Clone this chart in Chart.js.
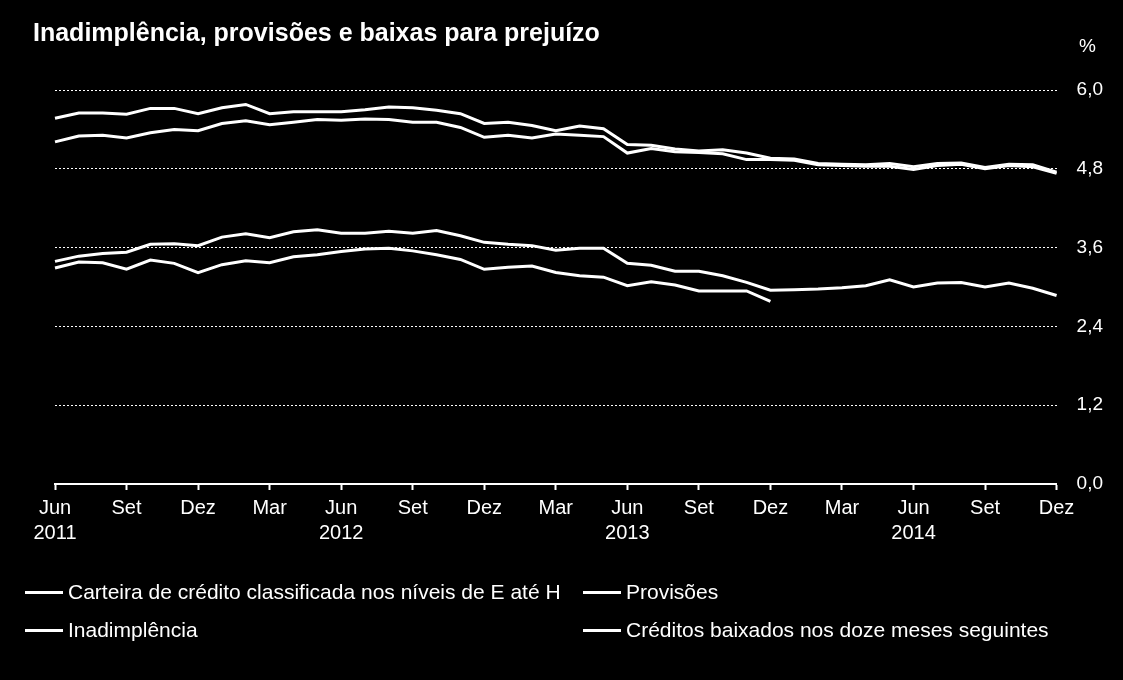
<!DOCTYPE html>
<html lang="pt-BR">
<head>
<meta charset="utf-8">
<title>Inadimplência, provisões e baixas para prejuízo</title>
<script src="https://cdn.jsdelivr.net/npm/chart.js@4.4.1/dist/chart.umd.min.js"></script>
<style>
  html, body { margin: 0; padding: 0; background: #000; }
  .wrap { position: relative; width: 1123px; height: 680px; background: #000; overflow: hidden;
    font-family: "Liberation Sans", Arial, sans-serif; color: #fff; }
  #chart { position: absolute; left: 0; top: 0; }
  .title { position: absolute; left: 33px; top: 18px; font-size: 25px; font-weight: bold; white-space: nowrap; }
  .unit { position: absolute; left: 1079px; top: 35px; font-size: 19px; }
  .leg { position: absolute; font-size: 21px; white-space: nowrap; display: flex; align-items: center; }
  .leg i { display: inline-block; width: 38px; height: 3px; background: #fff; margin-right: 5px; }
</style>
</head>
<body>
<div class="wrap">
  <canvas id="chart" width="1123" height="680"></canvas>
  <div class="title">Inadimplência, provisões e baixas para prejuízo</div>
  <div class="unit">%</div>
  <div class="leg" style="left:25px; top:580px;"><i></i>Carteira de crédito classificada nos níveis de E até H</div>
  <div class="leg" style="left:583px; top:580px;"><i></i>Provisões</div>
  <div class="leg" style="left:25px; top:618px;"><i></i>Inadimplência</div>
  <div class="leg" style="left:583px; top:618px;"><i></i>Créditos baixados nos doze meses seguintes</div>
</div>
<script>
// meses de jun/2011 a dez/2014
const monthNames = ["Jan", "Fev", "Mar", "Abr", "Mai", "Jun", "Jul", "Ago", "Set", "Out", "Nov", "Dez"];
const startYear = 2011;
const startMonth = 5; // Jun
const nMonths = 43;

const yTicks = [0, 1.2, 2.4, 3.6, 4.8, 6.0];

const carteiraEH = [
  5.21, 5.30, 5.31, 5.27, 5.35, 5.40, 5.38,
  5.49, 5.53, 5.47, 5.51, 5.55, 5.54, 5.56, 5.55, 5.51, 5.51, 5.43, 5.28,
  5.31, 5.27, 5.33, 5.31, 5.29, 5.04, 5.11, 5.06, 5.05, 5.03, 4.94, 4.94,
  4.93, 4.86, 4.85, 4.84, 4.84, 4.79, 4.85, 4.87, 4.80, 4.85, 4.83, 4.73
];
const provisoes = [
  5.57, 5.65, 5.65, 5.63, 5.72, 5.72, 5.64,
  5.73, 5.78, 5.64, 5.67, 5.67, 5.67, 5.70, 5.74, 5.73, 5.69, 5.64, 5.49,
  5.51, 5.46, 5.38, 5.45, 5.41, 5.17, 5.16, 5.10, 5.07, 5.09, 5.04, 4.96,
  4.95, 4.88, 4.87, 4.86, 4.88, 4.83, 4.88, 4.89, 4.82, 4.87, 4.86, 4.75
];
const inadimplencia = [
  3.39, 3.47, 3.51, 3.53, 3.65, 3.66, 3.63,
  3.76, 3.81, 3.75, 3.84, 3.87, 3.82, 3.82, 3.85, 3.82, 3.86, 3.78, 3.68,
  3.65, 3.63, 3.56, 3.59, 3.59, 3.36, 3.33, 3.24, 3.24, 3.17, 3.07, 2.95,
  2.96, 2.97, 2.99, 3.02, 3.11, 3.00, 3.06, 3.07, 3.00, 3.06, 2.98, 2.87
];
const creditosBaixados = [
  3.29, 3.38, 3.37, 3.27, 3.41, 3.36, 3.22,
  3.34, 3.40, 3.37, 3.46, 3.49, 3.54, 3.58, 3.59, 3.55, 3.49, 3.42, 3.27,
  3.30, 3.32, 3.22, 3.17, 3.15, 3.02, 3.08, 3.03, 2.94, 2.94, 2.94, 2.78,
  null, null, null, null, null, null, null, null, null, null, null, null
];

const labels = [];
for (let i = 0; i < nMonths; i++) {
  const m = (startMonth + i) % 12;
  const y = startYear + Math.floor((startMonth + i) / 12);
  labels.push({ month: monthNames[m], year: String(y) });
}

const font = "'Liberation Sans', Arial, sans-serif";

function line(label, data) {
  return {
    label, data,
    borderColor: "#fff",
    borderWidth: 3,
    pointRadius: 0,
    tension: 0,
    spanGaps: false
  };
}

new Chart(document.getElementById("chart"), {
  type: "line",
  data: {
    labels: labels.map(l => l.month + " " + l.year),
    datasets: [
      line("Carteira de crédito classificada nos níveis de E até H", carteiraEH),
      line("Provisões", provisoes),
      line("Inadimplência", inadimplencia),
      line("Créditos baixados nos doze meses seguintes", creditosBaixados)
    ]
  },
  options: {
    responsive: false,
    animation: false,
    layout: { padding: { left: 55, right: 0, top: 90, bottom: 128 } },
    plugins: { legend: { display: false }, tooltip: { enabled: false } },
    scales: {
      x: {
        offset: false,
        border: { display: true, color: "#fff", width: 2 },
        grid: {
          drawOnChartArea: false,
          drawTicks: true,
          tickLength: 6,
          tickWidth: 2,
          tickColor: ctx => (ctx.index % 3 === 0 ? "#fff" : "rgba(0,0,0,0)")
        },
        ticks: {
          autoSkip: false,
          maxRotation: 0,
          padding: 6,
          color: "#fff",
          font: { family: font, size: 20, lineHeight: 1.25 },
          callback: (v, i) => {
            if (i % 3 !== 0) return "";
            const l = labels[i];
            return l.month === "Jun" ? [l.month, l.year] : l.month;
          }
        }
      },
      y: {
        position: "right",
        min: 0,
        max: 6,
        border: { display: false, dash: [2, 2] },
        grid: {
          drawTicks: false,
          lineWidth: 1,
          color: ctx => (ctx.tick && ctx.tick.value === 0 ? "rgba(0,0,0,0)" : "#fff")
        },
        afterBuildTicks: s => { s.ticks = yTicks.map(v => ({ value: v })); },
        ticks: {
          padding: 20,
          color: "#fff",
          font: { family: font, size: 19 },
          callback: v => v.toFixed(1).replace(".", ",")
        }
      }
    }
  }
});
</script>
</body>
</html>
